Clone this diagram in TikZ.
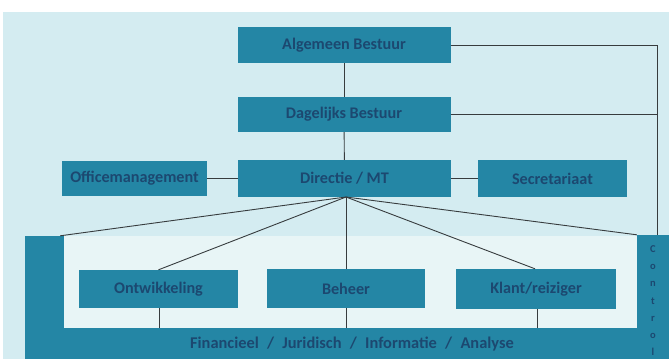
\documentclass[tikz,border=0pt]{standalone}
\usepackage{fontspec}
\setmainfont{Carlito}
\definecolor{bgcyan}{RGB}{212,236,241}
\definecolor{innerbg}{RGB}{232,245,246}
\definecolor{boxteal}{RGB}{36,134,165}
\definecolor{txtnavy}{RGB}{28,72,112}
\definecolor{linegray}{RGB}{55,60,62}
\begin{document}
\begin{tikzpicture}[x=1pt,y=-1pt,
  orgbox/.style={rectangle, fill=boxteal, draw=none, inner sep=0pt,
    text=txtnavy, font=\bfseries\fontsize{16.2}{18}\selectfont},
  conn/.style={draw=linegray, line width=0.9pt},
  plain/.style={rectangle, fill=boxteal, draw=none, inner sep=0pt}]
\useasboundingbox (0,0) rectangle (669,359);
\fill[white] (0,0) rectangle (669,359);
\fill[bgcyan] (3,12) rectangle (669,359);
\fill[innerbg] (64,236) rectangle (637,328);
% top boxes
\node[orgbox, minimum width=213pt, minimum height=36pt] (alg) at (344,45) {Algemeen Bestuur};
\node[orgbox, minimum width=213pt, minimum height=35pt] (dag) at (344,114.5) {Dagelijks Bestuur};
\node[orgbox, minimum width=213pt, minimum height=37pt] (dir) at (344.5,178.5) {Directie / MT};
\node[orgbox, minimum width=145pt, minimum height=35pt] (off) at (134.5,178.5) {Officemanagement};
\node[orgbox, minimum width=149pt, minimum height=37pt] (sec) at (552.5,178.5) {Secretariaat};
% lower structure
\node[plain, minimum width=39pt, minimum height=123pt] (left) at (44.5,297.5) {};
\node[plain, minimum width=612pt, minimum height=31pt] (fin) at (331,343.5) {};
\node[text=txtnavy, font=\bfseries\fontsize{16.4}{18}\selectfont, inner sep=0pt] (fintext) at (352,344.5) {Financieel \;/\; Juridisch \;/\; Informatie \;/\; Analyse};
\node[plain, minimum width=32pt, minimum height=124pt] (ctrl) at (653,297) {};
\node[text=txtnavy, font=\bfseries\fontsize{10.5}{17.2}\selectfont, align=center, anchor=north, inner sep=0pt] (ctrltext) at (653,245.5) {C\\o\\n\\t\\r\\o\\l};
\node[orgbox, minimum width=159pt, minimum height=38pt] (ontw) at (158.5,289) {Ontwikkeling};
\node[orgbox, minimum width=158pt, minimum height=39pt] (beh) at (346,288.5) {Beheer};
\node[orgbox, minimum width=160pt, minimum height=40pt] (klant) at (536,289) {Klant/reiziger};
% connectors
\coordinate (rt) at (657,235);
\draw[conn] (alg) -- (dag);
\draw[conn] (dag) -- (dir);
\draw[conn] (off) -- (dir);
\draw[conn] (dir) -- (sec);
\draw[conn] (alg.east) -| (rt);
\draw[conn] (dag.east) -- (dag.east -| rt);
\coordinate (dsrc) at (346,197);
\draw[conn] (dsrc) -- ([xshift=-4pt]left.north east);
\draw[conn] (dsrc) -- (ontw.north);
\draw[conn] (dsrc) -- (beh.north);
\draw[conn] (dsrc) -- (klant.north -| 535,0);
\draw[conn] (dsrc) -- (ctrl.north west);
\draw[conn] (ontw.south -| 159,0) -- (fin.north -| 159,0);
\draw[conn] (beh.south) -- (fin.north -| beh.south);
\draw[conn] (klant.south -| 537,0) -- (fin.north -| 537,0);
\end{tikzpicture}
\end{document}
